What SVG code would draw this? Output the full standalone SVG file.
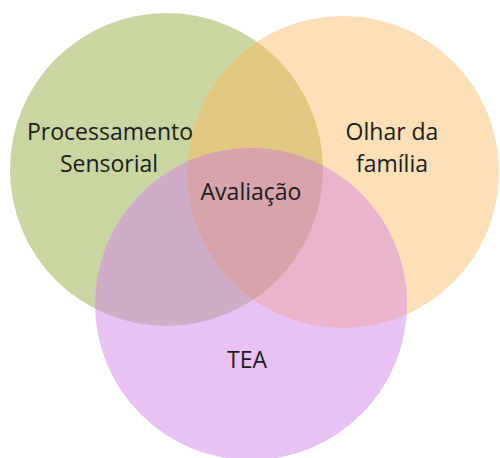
<svg xmlns="http://www.w3.org/2000/svg" width="500" height="458" viewBox="0 0 500 458">
<style>
text{font-family:"Open Sans","Noto Sans","DejaVu Sans",sans-serif;font-size:23px;fill:#1c1c1c;text-anchor:middle}
</style>
<defs>
<clipPath id="cG"><circle cx="166.5" cy="169.5" r="156.5"/></clipPath>
<clipPath id="cO"><circle cx="343" cy="172" r="156"/></clipPath>
<clipPath id="cP"><circle cx="251" cy="304" r="156"/></clipPath>
</defs>
<rect width="500" height="458" fill="#ffffff"/>
<g id="green"><circle cx="166.5" cy="169.5" r="156.5" fill="#c9d6a1"/></g>
<g id="orange"><circle cx="343" cy="172" r="156" fill="#fde0b8"/></g>
<g id="purple"><circle cx="251" cy="304" r="156" fill="#e8c2f2"/></g>
<g id="overlaps">
<g clip-path="url(#cG)"><circle cx="343" cy="172" r="156" fill="#e0c97f"/></g>
<g clip-path="url(#cG)"><circle cx="251" cy="304" r="156" fill="#cfadc6"/></g>
<g clip-path="url(#cO)"><circle cx="251" cy="304" r="156" fill="#eab4cb"/></g>
<g clip-path="url(#cG)"><g clip-path="url(#cO)"><circle cx="251" cy="304" r="156" fill="#d8a3a9"/></g></g>
</g>
<g id="labels">
<text x="110" y="140">Processamento</text>
<text x="109" y="172">Sensorial</text>
<text x="392" y="140">Olhar da</text>
<text x="392" y="172">família</text>
<text x="251" y="200">Avaliação</text>
<text x="247" y="368">TEA</text>
</g>
</svg>
